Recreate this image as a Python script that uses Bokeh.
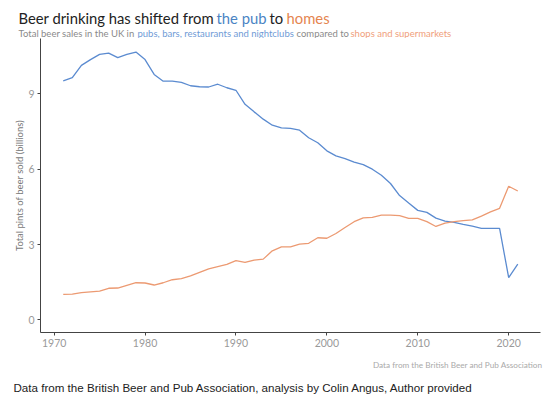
from bokeh.plotting import figure
from bokeh.models import Label, Range1d, FixedTicker
from bokeh.layouts import column
from bokeh.embed import file_html
from bokeh.resources import INLINE

years = list(range(1971, 2022))
pub_sales = [9.51, 9.64, 10.13, 10.36, 10.57, 10.62, 10.44, 10.57, 10.66, 10.36,
             9.77, 9.50, 9.50, 9.45, 9.32, 9.28, 9.27, 9.38, 9.24, 9.14,
             8.58, 8.28, 7.99, 7.75, 7.64, 7.62, 7.55, 7.25, 7.05, 6.73,
             6.53, 6.42, 6.28, 6.18, 6.00, 5.76, 5.43, 4.95, 4.65, 4.36,
             4.28, 4.05, 3.93, 3.88, 3.80, 3.73, 3.64, 3.64, 3.64, 1.68, 2.22]
home_sales = [1.02, 1.03, 1.09, 1.12, 1.15, 1.26, 1.27, 1.38, 1.48, 1.47,
              1.39, 1.48, 1.60, 1.64, 1.75, 1.89, 2.03, 2.12, 2.21, 2.36,
              2.29, 2.38, 2.42, 2.75, 2.91, 2.91, 3.02, 3.05, 3.27, 3.25,
              3.44, 3.68, 3.91, 4.06, 4.08, 4.17, 4.17, 4.15, 4.04, 4.04,
              3.91, 3.72, 3.85, 3.91, 3.95, 3.98, 4.13, 4.30, 4.44, 5.32, 5.13]
x_ticks = [1970, 1980, 1990, 2000, 2010, 2020]
y_ticks = [0, 3, 6, 9]

BLUE = "#5b8bd0"
ORANGE = "#ec9a72"
GREY_AX = "#444444"
FONT = "Lato"
W = 550


def blank(height):
    f = figure(width=W, height=height, output_backend="svg", toolbar_location=None,
               title=None, x_axis_location=None, y_axis_location=None,
               x_range=Range1d(0, W), y_range=Range1d(height, 0),
               min_border=0, frame_align=False)
    f.outline_line_color = None
    f.xgrid.visible = False
    f.ygrid.visible = False
    f.border_fill_color = "white"
    return f


def lab(fig, x, y, text, color, size, font=FONT, align="left"):
    fig.add_layout(Label(x=x, y=y, text=text, text_color=color, text_font=font,
                         text_font_size=size, text_baseline="middle",
                         text_align=align))


# header
TS = "14.8px"
SS = "9.5px"
head = blank(38)
lab(head, 18, 17, "Beer drinking has shifted from", "#222222", TS)
lab(head, 216, 17, "the pub", "#4a84c4", TS)
lab(head, 269, 17, "to", "#222222", TS)
lab(head, 286, 17, "homes", "#e5854f", TS)
lab(head, 18, 33, "Total beer sales in the UK in", "#8a8a8a", SS)
lab(head, 137, 33, "pubs, bars, restaurants and nightclubs", "#6f9bd6", SS)
lab(head, 296, 33, "compared to", "#8a8a8a", SS)
lab(head, 350, 33, "shops and supermarkets", "#f0a07c", SS)

# main chart
p = figure(width=W, height=316, output_backend="svg", toolbar_location=None,
           title=None, frame_align=False,
           x_range=Range1d(1968.5, 2023.5), y_range=Range1d(-0.5, 11.2),
           min_border_left=40, min_border_right=10, min_border_top=0,
           min_border_bottom=22)
p.outline_line_color = None
p.background_fill_color = "white"
p.border_fill_color = "white"
p.xgrid.visible = False
p.ygrid.visible = False

p.line(years, pub_sales, line_color=BLUE, line_width=1.3)
p.line(years, home_sales, line_color=ORANGE, line_width=1.3)

for ax in (p.xaxis[0], p.yaxis[0]):
    ax.axis_line_color = GREY_AX
    ax.axis_line_width = 1
    ax.major_tick_line_color = GREY_AX
    ax.major_tick_out = 3
    ax.major_tick_in = 0
    ax.minor_tick_out = 0
    ax.minor_tick_in = 0
    ax.major_label_text_font = FONT
    ax.major_label_text_font_size = "10.5px"
    ax.major_label_text_color = "#999999"
    ax.major_label_standoff = 3

p.xaxis[0].ticker = FixedTicker(ticks=x_ticks)
p.yaxis[0].ticker = FixedTicker(ticks=y_ticks)
p.yaxis[0].axis_label = "Total pints of beer sold (billions)"
p.yaxis[0].axis_label_text_font = FONT
p.yaxis[0].axis_label_text_font_size = "9.5px"
p.yaxis[0].axis_label_text_font_style = "normal"
p.yaxis[0].axis_label_text_color = "#777777"
p.yaxis[0].axis_label_standoff = 0

# footer
foot = blank(50)
lab(foot, 542, 10, "Data from the British Beer and Pub Association", "#aaaaaa", "8.2px",
    align="right")
lab(foot, 13, 33, "Data from the British Beer and Pub Association, analysis by Colin Angus, Author provided",
    "#222222", "11.6px", font="Liberation Sans")

layout = column(head, p, foot, spacing=0)
open("out.html", "w").write(file_html(layout, INLINE))
